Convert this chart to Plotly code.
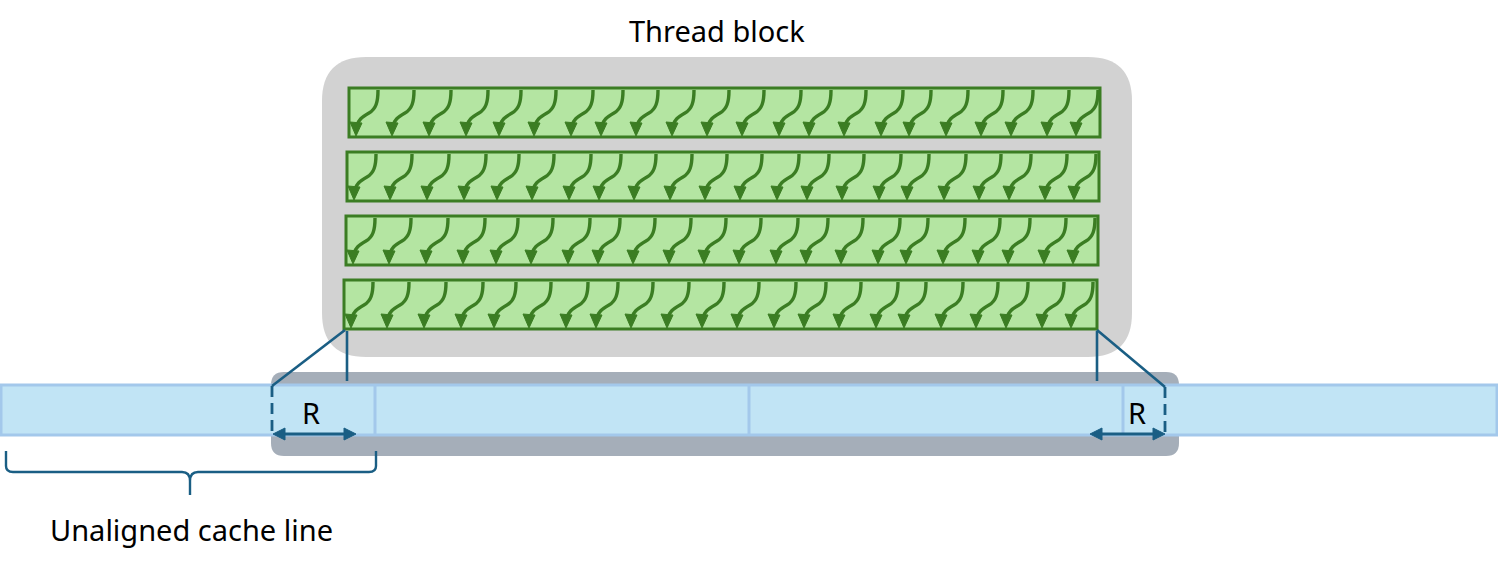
import plotly.graph_objects as go

W, H = 1498, 568

# ---- data (diagram geometry in pixel units) ----
title_text = "Thread block"
brace_text = "Unaligned cache line"
range_label = "R"

row_left = [349, 347, 346, 344]
row_right = [1100, 1099, 1098, 1097]
row_top = [88, 152, 216, 280]
row_height = 49
arrow_tip_offsets = [8, 44, 81, 118, 151, 186, 223, 253, 288, 324, 359,
                     394, 431, 461, 496, 533, 561, 598, 633, 663, 699, 728]

block_box = [322, 57, 1132, 357]
load_box = [271, 372, 1179, 456]
bar_x = [1, 1497]
bar_y = [385, 435]
cache_line_bounds = [375, 749, 1123]
halo_left = 272
halo_right = 1165
r_left = [273, 356]
r_right = [1090, 1165]
r_y = 434
brace_x = [6, 376]
brace_y = [451, 472, 495]

GREEN_FILL = "#b4e5a2"
GREEN = "#3b7d23"
GRAY = "#d2d2d2"
DARK_GRAY = "#a5aeb9"
BAR_FILL = "#c1e4f5"
BAR_EDGE = "#a3c8eb"
BLUE = "#1a5e84"
FONT = "Noto Sans"
FS = 29


def rrect(x0, y0, x1, y1, r):
    return (f"M{x0+r},{y0} L{x1-r},{y0} Q{x1},{y0} {x1},{y0+r} "
            f"L{x1},{y1-r} Q{x1},{y1} {x1-r},{y1} L{x0+r},{y1} "
            f"Q{x0},{y1} {x0},{y1-r} L{x0},{y0+r} Q{x0},{y0} {x0+r},{y0} Z")


shapes = []
shapes.append(dict(type="path", path=rrect(*block_box, 44), fillcolor=GRAY,
                   line=dict(width=0), layer="below"))
shapes.append(dict(type="path", path=rrect(*load_box, 13), fillcolor=DARK_GRAY,
                   line=dict(width=0), layer="below"))
shapes.append(dict(type="rect", x0=bar_x[0], x1=bar_x[1], y0=bar_y[0], y1=bar_y[1],
                   fillcolor=BAR_FILL, line=dict(color=BAR_EDGE, width=3)))
for cx in cache_line_bounds:
    shapes.append(dict(type="line", x0=cx, x1=cx, y0=bar_y[0], y1=bar_y[1],
                       line=dict(color=BAR_EDGE, width=3)))

# warps
for lx, rx, ty in zip(row_left, row_right, row_top):
    by = ty + row_height
    shapes.append(dict(type="rect", x0=lx, x1=rx, y0=ty, y1=by,
                       fillcolor=GREEN_FILL, line=dict(color=GREEN, width=3)))
    curves = []
    heads = []
    for off in arrow_tip_offsets:
        tx = lx + off
        xt = tx + 21
        yt = ty + 2
        curves.append(f"M{xt},{yt} C{xt},{yt+12} {xt-2},{yt+19} {xt-9},{yt+23} "
                      f"C{xt-16},{yt+27} {xt-20},{yt+30} {xt-21},{yt+36}")
        yb = by - 1
        heads.append(f"M{tx-7},{yb-14} L{tx+5},{yb-13} L{tx-1},{yb} Z")
    shapes.append(dict(type="path", path=" ".join(curves),
                       line=dict(color=GREEN, width=3.4)))
    shapes.append(dict(type="path", path=" ".join(heads), fillcolor=GREEN,
                       line=dict(color=GREEN, width=1)))

lb = row_top[-1] + row_height
shapes += [
    dict(type="line", x0=row_left[-1] + 1, y0=lb + 1, x1=halo_left, y1=bar_y[0] + 1,
         line=dict(color=BLUE, width=2.6)),
    dict(type="line", x0=row_left[-1] + 3, y0=lb + 2, x1=row_left[-1] + 3, y1=bar_y[0] - 4,
         line=dict(color=BLUE, width=2.6)),
    dict(type="line", x0=row_right[-1], y0=lb + 1, x1=halo_right, y1=bar_y[0] + 2,
         line=dict(color=BLUE, width=2.6)),
    dict(type="line", x0=row_right[-1], y0=lb + 2, x1=row_right[-1], y1=bar_y[0] - 4,
         line=dict(color=BLUE, width=2.6)),
    dict(type="line", x0=halo_left, y0=bar_y[0] + 1, x1=halo_left, y1=bar_y[1],
         line=dict(color=BLUE, width=2.8, dash="11px,6px")),
    dict(type="line", x0=halo_right, y0=bar_y[0] + 2, x1=halo_right, y1=bar_y[1],
         line=dict(color=BLUE, width=2.8, dash="11px,6px")),
]

for a, b in (r_left, r_right):
    shapes.append(dict(type="line", x0=a + 6, x1=b - 6, y0=r_y, y1=r_y,
                       line=dict(color=BLUE, width=2.8)))
    shapes.append(dict(type="path",
                       path=f"M{a},{r_y} L{a+12},{r_y-6} L{a+12},{r_y+6} Z "
                            f"M{b},{r_y} L{b-12},{r_y-6} L{b-12},{r_y+6} Z",
                       fillcolor=BLUE, line=dict(color=BLUE, width=1)))

x0, x1 = brace_x
xm = (x0 + x1) / 2 - 1
yt, yh, yp = brace_y
shapes.append(dict(type="path",
                   path=(f"M{x0},{yt} L{x0},{yh-6} Q{x0},{yh} {x0+7},{yh} L{xm-8},{yh} "
                         f"Q{xm},{yh} {xm},{yh+9} L{xm},{yp} "
                         f"M{xm},{yh+9} Q{xm},{yh} {xm+8},{yh} L{x1-7},{yh} "
                         f"Q{x1},{yh} {x1},{yh-6} L{x1},{yt}"),
                   line=dict(color=BLUE, width=2.4)))

annotations = [
    dict(x=717, y=30, text=title_text, showarrow=False,
         font=dict(family=FONT, size=FS, color="#000000")),
    dict(x=191, y=529, text=brace_text, showarrow=False,
         font=dict(family=FONT, size=FS, color="#000000")),
    dict(x=311, y=412, text=range_label, showarrow=False,
         font=dict(family=FONT, size=FS, color="#000000")),
    dict(x=1137, y=412, text=range_label, showarrow=False,
         font=dict(family=FONT, size=FS, color="#000000")),
]

fig = go.Figure()
fig.add_trace(go.Scatter(x=[0, W], y=[0, H], mode="markers",
                         marker=dict(opacity=0), hoverinfo="skip", showlegend=False))
fig.update_layout(
    width=W, height=H, margin=dict(l=0, r=0, t=0, b=0),
    paper_bgcolor="white", plot_bgcolor="white",
    xaxis=dict(range=[0, W], visible=False, fixedrange=True),
    yaxis=dict(range=[H, 0], visible=False, fixedrange=True),
    shapes=shapes, annotations=annotations, showlegend=False,
)
fig.write_html("out.html", config={"displayModeBar": False},
               post_script="document.body.style.margin='0px';document.body.style.overflow='hidden';")
